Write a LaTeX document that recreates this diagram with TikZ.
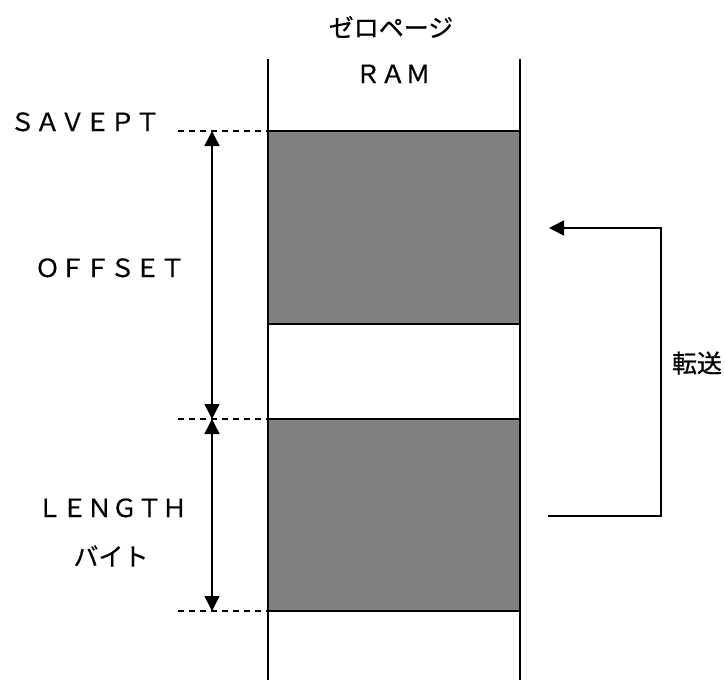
\documentclass[tikz,border=0pt]{standalone}
\usepackage{fontspec}
\setmainfont{Noto Sans CJK JP}[FakeBold=0.6]
\usetikzlibrary{arrows.meta}
\begin{document}
\begin{tikzpicture}[x=1pt,y=-1pt,
  txt/.style={inner sep=0pt,font=\fontsize{25}{30}\selectfont},
  wall/.style={line width=1.5pt},
  dashline/.style={line width=1.3pt,dash pattern=on 6pt off 5pt},
  arr/.style={line width=1.5pt,-{Triangle[width=15pt,length=15pt]}},
  darr/.style={line width=1.5pt,{Triangle[width=15pt,length=15pt]}-{Triangle[width=15pt,length=15pt]}},
  shade/.style={fill=black!50,draw=black,line width=1.5pt}]
\useasboundingbox (0,0) rectangle (725,680);
% columns
\coordinate (lt) at (268,59);
\coordinate (lb) at (268,680);
\coordinate (rt) at (520,59);
\coordinate (rb) at (520,680);
% shaded blocks
\path[shade] (268,131) rectangle (520,324);
\path[shade] (268,419) rectangle (520,611);
\draw[wall] (lt) -- (lb);
\draw[wall] (rt) -- (rb);
% levels
\coordinate (s0) at (268,131);
\coordinate (s1) at (268,419);
\coordinate (s2) at (268,611);
\coordinate (d0) at (178,131);
\coordinate (d1) at (178,419);
\coordinate (d2) at (178,611);
\draw[dashline] (d0) -- (s0);
\draw[dashline] (d1) -- (s1);
\draw[dashline] (d2) -- (s2);
\coordinate (a0) at (212,131);
\coordinate (a1) at (212,419);
\coordinate (a2) at (212,611);
\draw[darr] (a0) -- (a1);
\draw[darr] (a1) -- (a2);
% transfer arrow
\coordinate (tf) at (548,516);
\coordinate (tc1) at (661,516);
\coordinate (tc2) at (661,228);
\coordinate (tt) at (549,228);
\draw[arr] (tf) -- (tc1) -- (tc2) -- (tt);
% labels
\node[txt] (zp) at (391,27) {ゼロページ};
\node[txt,anchor=base] (ram) at (393,83) {ＲＡＭ};
\node[txt,anchor=base] (sv) at (85,131) {ＳＡＶＥＰＴ};
\node[txt,anchor=base] (of) at (110,277) {ＯＦＦＳＥＴ};
\node[txt,anchor=base] (ln) at (112,517) {ＬＥＮＧＴＨ};
\node[txt] (by) at (111,556) {バイト};
\node[txt] (ts) at (697,363) {転送};
\end{tikzpicture}
\end{document}
